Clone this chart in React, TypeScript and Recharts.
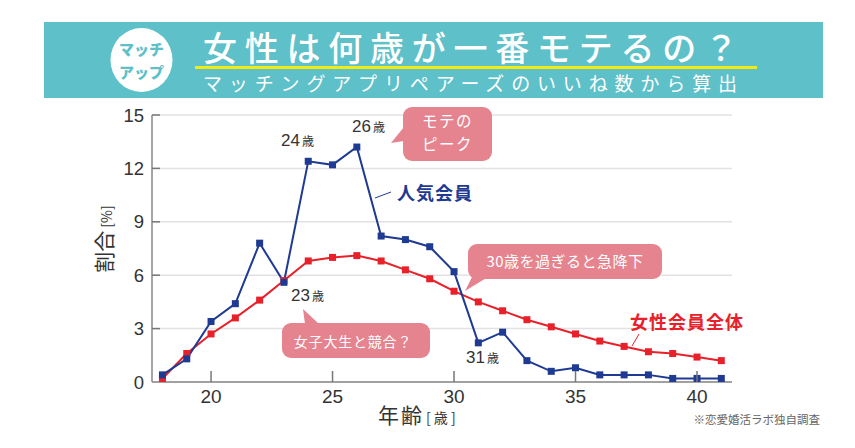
import React from "react";
import { LineChart, Line, XAxis, YAxis, CartesianGrid } from "recharts";

const ages = [18, 19, 20, 21, 22, 23, 24, 25, 26, 27, 28, 29, 30, 31, 32, 33, 34, 35, 36, 37, 38, 39, 40, 41];
const popularMembers = [0.4, 1.3, 3.4, 4.4, 7.8, 5.6, 12.4, 12.2, 13.2, 8.2, 8.0, 7.6, 6.2, 2.2, 2.8, 1.2, 0.6, 0.8, 0.4, 0.4, 0.4, 0.2, 0.2, 0.2];
const allMembers = [0.2, 1.6, 2.7, 3.6, 4.6, 5.7, 6.8, 7.0, 7.1, 6.8, 6.3, 5.8, 5.1, 4.5, 4.0, 3.5, 3.1, 2.7, 2.3, 2.0, 1.7, 1.6, 1.4, 1.2];
const xTicks = [20, 25, 30, 35, 40];
const yTicks = [0, 3, 6, 9, 12, 15];

const data = ages.map((a, i) => ({ age: a, popular: popularMembers[i], all: allMembers[i] }));

const BLUE = "#1E3A92";
const RED = "#E8202A";
const PINK = "#E5848F";
const TEAL = "#5EC0C8";
const LATIN = "'Liberation Sans', Arial, sans-serif";
const JP = "'Noto Sans CJK JP', sans-serif";

const SquareDot = (color: string) => (props: any) => {
  const { cx, cy, index } = props;
  if (cx == null || cy == null) return <g key={index} />;
  return <rect key={index} x={cx - 3.5} y={cy - 3.5} width={7} height={7} fill={color} />;
};

const XTick = (props: any) => {
  const { x, y, payload } = props;
  return (
    <g>
      <line x1={x} x2={x} y1={y} y2={y - 11} stroke="#777" strokeWidth={1.5} />
      <text x={x} y={y + 20.5} textAnchor="middle" fontSize={19} fill="#333" fontFamily={LATIN}>
        {payload.value}
      </text>
    </g>
  );
};

const YTick = (props: any) => {
  const { x, y, payload } = props;
  return (
    <g>
      {payload.value !== 0 && <line x1={x} x2={x + 8} y1={y} y2={y} stroke="#777" strokeWidth={1.5} />}
      <text x={x - 8} y={y + 6.5} textAnchor="end" fontSize={18.5} fill="#333" fontFamily={LATIN}>
        {payload.value}
      </text>
    </g>
  );
};

function Callout({ x, y, w, h, tail, children }: any) {
  return (
    <g>
      <polygon points={tail} fill={PINK} />
      <rect x={x} y={y} width={w} height={h} rx={9} ry={9} fill={PINK} />
      {children}
    </g>
  );
}

function AgeLabel({ x, y, num }: any) {
  return (
    <text x={x} y={y} fill="#333" fontFamily={LATIN}>
      <tspan fontSize={17}>{num}</tspan>
      <tspan fontSize={12} fontFamily={JP} dx={2}>歳</tspan>
    </text>
  );
}

export default function App() {
  return (
    <div style={{ position: "relative", width: 855, height: 448, background: "#fff", overflow: "hidden" }}>
      <style>{"body{margin:0;overflow:hidden;background:#fff}"}</style>
      <div style={{ position: "absolute", left: 0, top: 0 }}>
        <LineChart
          width={855}
          height={448}
          data={data}
          margin={{ top: 115, right: 123, left: 92, bottom: 36 }}
        >
          <CartesianGrid horizontal vertical={false} stroke="#e2e2e2" strokeWidth={1.5} />
          <XAxis
            dataKey="age"
            type="number"
            domain={[17.57, 41.44]}
            ticks={xTicks}
            allowDataOverflow
            height={30}
            tickSize={0}
            tickMargin={0}
            tickLine={false}
            axisLine={{ stroke: "#888", strokeWidth: 1.5 }}
            tick={<XTick />}
            interval={0}
          />
          <YAxis
            type="number"
            domain={[0, 15]}
            ticks={yTicks}
            width={60}
            tickSize={0}
            tickMargin={0}
            tickLine={false}
            axisLine={{ stroke: "#888", strokeWidth: 1.5 }}
            tick={<YTick />}
            interval={0}
          />
          <Line
            dataKey="all"
            stroke={RED}
            strokeWidth={2}
            dot={SquareDot(RED)}
            isAnimationActive={false}
          />
          <Line
            dataKey="popular"
            stroke={BLUE}
            strokeWidth={2}
            dot={SquareDot(BLUE)}
            isAnimationActive={false}
          />
        </LineChart>
      </div>
      <svg
        width={855}
        height={448}
        style={{ position: "absolute", left: 0, top: 0, pointerEvents: "none" }}
      >
        {/* header */}
        <rect x={44} y={22} width={779} height={76} fill={TEAL} />
        <ellipse cx={141.5} cy={60} rx={31} ry={32} fill="#fff" />
        <text x={141.5} y={55} textAnchor="middle" fontSize={15} fontWeight={900} fill={TEAL} fontFamily={JP}>
          マッチ
        </text>
        <text x={141.5} y={78} textAnchor="middle" fontSize={15} fontWeight={900} fill={TEAL} fontFamily={JP}>
          アップ
        </text>
        <text x={203} y={61} fontSize={34} fontWeight={500} fill="#fff" fontFamily={JP} textLength={535} lengthAdjust="spacing">
          女性は何歳が一番モテるの？
        </text>
        <line x1={195} x2={757} y1={67.5} y2={67.5} stroke="#F2EA10" strokeWidth={3} />
        <text x={203} y={91} fontSize={19} fill="#fff" fontFamily={JP} textLength={534} lengthAdjust="spacing">
          マッチングアプリペアーズのいいね数から算出
        </text>

        {/* axis titles */}
        <text transform="translate(112,239) rotate(-90)" textAnchor="middle" fill="#333" fontFamily={JP}>
          <tspan fontSize={21}>割合</tspan>
          <tspan fontSize={14} dx={3}>[%]</tspan>
        </text>
        <text x={378} y={423} fill="#333" fontFamily={JP}>
          <tspan fontSize={21} letterSpacing={2}>年齢</tspan>
          <tspan fontSize={14} dx={2}>[ 歳 ]</tspan>
        </text>
        <text x={820} y={424} textAnchor="end" fontSize={11.5} fill="#666" fontFamily={JP}>
          ※恋愛婚活ラボ独自調査
        </text>

        {/* age labels */}
        <AgeLabel x={281} y={146} num="24" />
        <AgeLabel x={352} y={132} num="26" />
        <AgeLabel x={291} y={301} num="23" />
        <AgeLabel x={466} y={363} num="31" />

        {/* callouts */}
        <Callout x={403} y={107} w={89} h={54} tail="404,127 404,141 391,143">
          <text x={447.5} y={127} textAnchor="middle" fontSize={15.5} fill="#fff" fontFamily={JP} letterSpacing={1.5}>
            モテの
          </text>
          <text x={447.5} y={150} textAnchor="middle" fontSize={15.5} fill="#fff" fontFamily={JP} letterSpacing={1.5}>
            ピーク
          </text>
        </Callout>
        <Callout x={282} y={323} w={148} h={35} tail="305,324 319,324 303,309">
          <text x={353} y={347} textAnchor="middle" fontSize={14} fill="#fff" fontFamily={JP} letterSpacing={0.8}>
            女子大生と競合？
          </text>
        </Callout>
        <Callout x={468} y={244} w={194} h={35} tail="472,277 488,277 465,291">
          <text x={565} y={267} textAnchor="middle" fontSize={15} fill="#fff" fontFamily={JP} letterSpacing={0.5}>
            30歳を過ぎると急降下
          </text>
        </Callout>

        {/* series labels */}
        <line x1={375} y1={198} x2={391} y2={192} stroke={BLUE} strokeWidth={1} />
        <text x={397} y={200} fontSize={18} fontWeight={700} fill={BLUE} fontFamily={JP} letterSpacing={1}>
          人気会員
        </text>
        <line x1={632} y1={346} x2={639} y2={334} stroke={RED} strokeWidth={1} />
        <text x={630} y={329} fontSize={18} fontWeight={700} fill={RED} fontFamily={JP} letterSpacing={1}>
          女性会員全体
        </text>
      </svg>
    </div>
  );
}
